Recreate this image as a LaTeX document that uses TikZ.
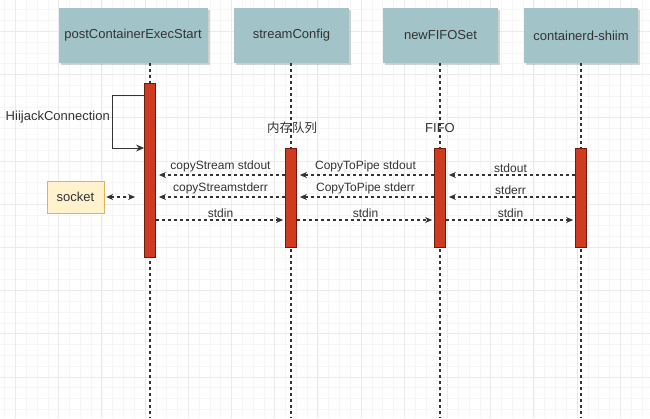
\documentclass[tikz,border=0pt]{standalone}
\usepackage{fontspec}
\setmainfont{Liberation Sans}
\newfontfamily\cjkfont{Noto Sans CJK SC}
\usepackage{tikz}
\usetikzlibrary{arrows.meta, positioning, calc, shadows}
\definecolor{SeqTeal}{HTML}{A2C4C9}
\definecolor{SeqRed}{HTML}{CF3B20}
\definecolor{SeqRedDark}{HTML}{6E1A0C}
\definecolor{SeqText}{HTML}{333333}
\definecolor{SocketFill}{HTML}{FFF2CC}
\definecolor{SocketEdge}{HTML}{D6B656}
\definecolor{GridMinor}{HTML}{F6F6F6}
\definecolor{GridMajor}{HTML}{EBEBEB}
\tikzset{
    header/.style={
        fill=SeqTeal,
        minimum width=#1,
        minimum height=55,
        text=SeqText,
        font=\fontsize{13}{15}\selectfont,
        align=center,
        drop shadow={shadow xshift=2pt, shadow yshift=-2pt, opacity=0.35, fill=gray}
    },
    header/.default=115,
    bar/.style={
        draw=SeqRedDark,
        fill=SeqRed,
        line width=0.8pt,
        minimum width=11,
        minimum height=#1,
        inner sep=0pt
    },
    lifeline/.style={
        SeqText,
        line width=1.3pt,
        dash pattern=on 3pt off 3pt
    },
    msg/.style={
        -{Stealth[length=7pt, width=6pt]},
        SeqText,
        line width=1.1pt,
        dash pattern=on 3pt off 3pt
    },
    msglabel/.style={
        text=SeqText,
        font=\fontsize{12}{14}\selectfont,
        inner sep=2pt
    },
    selfloop/.style={
        -{Stealth[length=8pt, width=7pt]},
        SeqText,
        line width=1pt
    },
    socketbox/.style={
        draw=SocketEdge,
        fill=SocketFill,
        minimum width=57,
        minimum height=32,
        text=SeqText,
        font=\fontsize{13}{15}\selectfont
    }
}

\begin{document}
\begin{tikzpicture}[x=1pt, y=-1pt]
    \useasboundingbox (0,0) rectangle (650,418);
    \fill[white] (0,0) rectangle (650,418);

    % background grid
    \foreach \gx in {4.6,15.4,...,650}
        \draw[GridMinor, line width=0.5pt] (\gx,0) -- (\gx,418);
    \foreach \gy in {9.7,20.5,...,418}
        \draw[GridMinor, line width=0.5pt] (0,\gy) -- (650,\gy);
    \foreach \gx in {15.4,58.6,...,650}
        \draw[GridMajor, line width=0.7pt] (\gx,0) -- (\gx,418);
    \foreach \gy in {31.3,74.5,...,418}
        \draw[GridMajor, line width=0.7pt] (0,\gy) -- (650,\gy);

    % participants
    \node[header=149] (exec) at (133,35.5) {postContainerExecStart};
    \node[header] (stream) at (291.5,35.5) {streamConfig};
    \node[header] (fifo) at (440.5,35.5) {newFIFOSet};
    \node[header=114] (shim) at (581,35.5) {containerd-shiim};

    % lifelines
    \coordinate (execEnd) at (150,418);
    \coordinate (streamEnd) at (291,418);
    \coordinate (fifoEnd) at (440,418);
    \coordinate (shimEnd) at (581,418);
    \draw[lifeline] (exec.south -| execEnd) -- (execEnd);
    \draw[lifeline] (stream.south -| streamEnd) -- (streamEnd);
    \draw[lifeline] (fifo.south -| fifoEnd) -- (fifoEnd);
    \draw[lifeline] (shim.south -| shimEnd) -- (shimEnd);

    % lifeline labels
    \node[msglabel, font=\cjkfont\fontsize{12.5}{14}\selectfont] (queueLabel) at (292,128) {内存队列};
    \node[msglabel, font=\fontsize{13}{15}\selectfont] (fifoLabel) at (440,128) {FIFO};

    % activation bars
    \node[bar=174] (execBar) at (150,170) {};
    \node[bar=99] (streamBar) at (291,197.5) {};
    \node[bar=99] (fifoBar) at (440,197.5) {};
    \node[bar=99] (shimBar) at (581,197.5) {};

    % self call
    \coordinate (loopTop) at (112,95);
    \coordinate (loopBottom) at (112,148);
    \draw[selfloop] (execBar.west |- loopTop) -- (loopTop) -- (loopBottom) -- (execBar.west |- loopBottom);
    \node[msglabel, font=\fontsize{13}{15}\selectfont, left=0pt of {$(loopTop)!0.42!(loopBottom)$}] (hijack) {HiijackConnection};

    % message rows
    \coordinate (rowOut) at (0,175);
    \coordinate (rowErr) at (0,197);
    \coordinate (rowIn) at (0,220);

    \draw[msg, shorten >=3pt] (streamBar.west |- rowOut) -- node[msglabel, above] {copyStream stdout} (execBar.east |- rowOut);
    \draw[msg, shorten >=3pt] (streamBar.west |- rowErr) -- node[msglabel, above] {copyStreamstderr} (execBar.east |- rowErr);
    \draw[msg, shorten >=2pt] (execBar.east |- rowIn) -- node[msglabel, above] {stdin} (streamBar.west |- rowIn);

    \draw[msg, shorten >=3pt] (fifoBar.west |- rowOut) -- node[msglabel, above] {CopyToPipe stdout} (streamBar.east |- rowOut);
    \draw[msg, shorten >=3pt] (fifoBar.west |- rowErr) -- node[msglabel, above] {CopyToPipe stderr} (streamBar.east |- rowErr);
    \draw[msg, shorten >=2pt] (streamBar.east |- rowIn) -- node[msglabel, above] {stdin} (fifoBar.west |- rowIn);

    \draw[msg, shorten >=3pt] (shimBar.west |- rowOut) -- node[msglabel, above] {stdout} (fifoBar.east |- rowOut);
    \draw[msg, shorten >=3pt] (shimBar.west |- rowErr) -- node[msglabel, above] {stderr} (fifoBar.east |- rowErr);
    \draw[msg, shorten >=2pt] (fifoBar.east |- rowIn) -- node[msglabel, above] {stdin} (shimBar.west |- rowIn);

    % socket
    \node[socketbox] (socket) at (75.5,197) {socket};
    \draw[msg, {Stealth[length=7pt, width=6pt]}-{Stealth[length=7pt, width=6pt]}, shorten <=2pt, shorten >=9pt] (socket.east) -- (execBar.west |- socket.east);
\end{tikzpicture}
\end{document}
